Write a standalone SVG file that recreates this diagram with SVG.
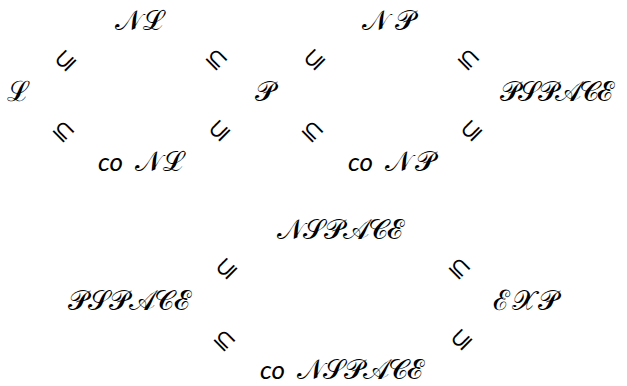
<svg xmlns="http://www.w3.org/2000/svg" width="627" height="386" viewBox="0 0 627 386">
<style>
.m{font-family:"DejaVu Serif",serif;font-size:28px;fill:#000}
.s{font-family:"DejaVu Sans",sans-serif;font-size:25px;text-anchor:middle;dominant-baseline:central;fill:#000}
</style>
<rect width="627" height="386" fill="#fff"/>
<g id="n-NL"><text class="m" x="115" y="30" textLength="48">𝒩ℒ</text></g>
<g id="n-L"><text class="m" x="7" y="101" textLength="18">ℒ</text></g>
<g id="n-P"><text class="m" x="255" y="101" textLength="20">𝒫</text></g>
<g id="n-coNL"><text x="98" y="171" font-family="Lato" font-style="italic" font-size="26">co</text><text class="m" x="135" y="171" textLength="48">𝒩ℒ</text></g>
<g id="n-NP"><text class="m" x="362" y="30" textLength="53">𝒩𝒫</text></g>
<g id="n-PSPACE1"><text class="m" x="500" y="101" textLength="113">𝒫𝒮𝒫𝒜𝒞ℰ</text></g>
<g id="n-coNP"><text x="348" y="171" font-family="Lato" font-style="italic" font-size="26">co</text><text class="m" x="385" y="171" textLength="50">𝒩𝒫</text></g>
<g id="n-NSPACE"><text class="m" x="277" y="239" textLength="126">𝒩𝒮𝒫𝒜𝒞ℰ</text></g>
<g id="n-PSPACE2"><text class="m" x="68" y="310" textLength="122">𝒫𝒮𝒫𝒜𝒞ℰ</text></g>
<g id="n-EXP"><text class="m" x="493" y="310" textLength="65">ℰ𝒳𝒫</text></g>
<g id="n-coNSPACE"><text x="260" y="379" font-family="Lato" font-style="italic" font-size="26">co</text><text class="m" x="297" y="379" textLength="126">𝒩𝒮𝒫𝒜𝒞ℰ</text></g>
<g id="connectors">
<text class="s" transform="translate(65,60) rotate(-45)">⊆</text>
<text class="s" transform="translate(64,131) rotate(45)">⊆</text>
<text class="s" transform="translate(217,59) rotate(45)">⊆</text>
<text class="s" transform="translate(219,130) rotate(-45)">⊆</text>
<text class="s" transform="translate(314,59) rotate(-45)">⊆</text>
<text class="s" transform="translate(313,131) rotate(45)">⊆</text>
<text class="s" transform="translate(469,59) rotate(45)">⊆</text>
<text class="s" transform="translate(471,130) rotate(-45)">⊆</text>
<text class="s" transform="translate(226,268) rotate(-45)">⊆</text>
<text class="s" transform="translate(225,340) rotate(45)">⊆</text>
<text class="s" transform="translate(460,268) rotate(45)">⊆</text>
<text class="s" transform="translate(461,339) rotate(-45)">⊆</text>
</g>
</svg>
